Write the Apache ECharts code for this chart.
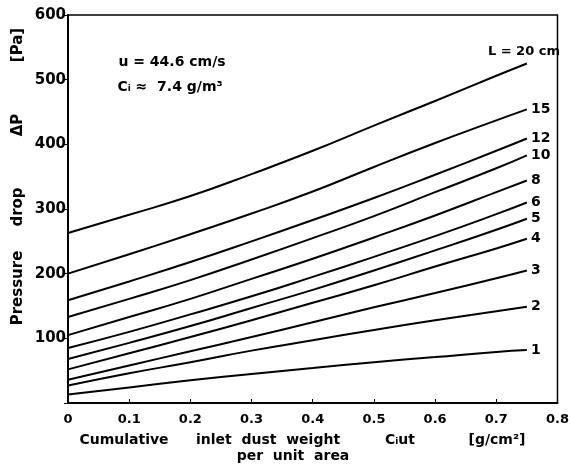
<!DOCTYPE html>
<html>
<head>
<meta charset="utf-8">
<script src="https://cdn.jsdelivr.net/npm/echarts@6/dist/echarts.min.js"></script>
<style>html,body{margin:0;padding:0;background:#fff}#c{width:572px;height:473px}</style>
</head>
<body>
<div id="c"></div>
<script>
// Cumulative inlet dust weight per unit area C_i u t [g/cm2]
var xValues = [0, 0.1, 0.2, 0.3, 0.4, 0.5, 0.6, 0.7, 0.75];
// Pressure drop [Pa] for each filter length L
var seriesNames = ['L = 20 cm', '15', '12', '10', '8', '6', '5', '4', '3', '2', '1'];
var L20 = [263, 291, 320, 354, 390, 429, 467, 506, 525];
var L15 = [200, 230, 261, 293, 327, 365, 402, 437, 454];
var L12 = [159, 188, 218, 250, 283, 317, 353, 390, 409];
var L10 = [133, 161, 190, 222, 255, 289, 326, 363, 383];
var L8  = [105, 133, 161, 192, 223, 256, 290, 326, 344];
var L6  = [85, 110, 137, 165, 195, 226, 258, 292, 310];
var L5  = [68, 93, 119, 147, 175, 205, 236, 268, 285];
var L4  = [52, 77, 102, 128, 155, 182, 211, 239, 254];
var L3  = [36, 58, 80, 102, 125, 148, 170, 193, 205];
var L2  = [27, 46, 63, 81, 97, 113, 128, 142, 149];
var L1  = [13, 24, 35, 45, 54, 63, 71, 79, 82];
var yTicks = [0, 100, 200, 300, 400, 500, 600];
var xTicks = [0, 0.1, 0.2, 0.3, 0.4, 0.5, 0.6, 0.7, 0.8];

var allData = [L20, L15, L12, L10, L8, L6, L5, L4, L3, L2, L1];
var FONT = '"DejaVu Sans", "Liberation Sans", sans-serif';

var chart = echarts.init(document.getElementById('c'));
var series = allData.map(function (vals, i) {
  return {
    name: seriesNames[i],
    type: 'line',
    smooth: 0.5,
    symbol: 'none',
    data: xValues.map(function (x, k) { return [x, vals[k]]; }),
    lineStyle: { color: '#000', width: 2 },
    endLabel: {
      show: true,
      formatter: '{a}',
      color: '#000',
      fontFamily: FONT,
      fontWeight: 'bold',
      fontSize: i === 0 ? 13 : 14,
      distance: 4,
      offset: i === 0 ? [-43, -12] : [0, 0]
    },
    emphasis: { disabled: true },
    silent: true
  };
});

function txt(x, y, s, size, rot) {
  return { type: 'text', x: x, y: y, rotation: rot || 0, silent: true,
    style: { text: s, font: 'bold ' + size + 'px ' + FONT, fill: '#000', textAlign: 'center', textVerticalAlign: 'middle' } };
}

chart.setOption({
  animation: false,
  backgroundColor: '#fff',
  grid: { left: 68, top: 15, right: 7, bottom: 70, show: true, borderColor: '#000', borderWidth: 1.5 },
  xAxis: {
    type: 'value', min: xTicks[0], max: xTicks[xTicks.length - 1], interval: 0.1,
    axisLine: { lineStyle: { color: '#000', width: 2 } },
    axisTick: { show: true, inside: true, length: 4, lineStyle: { color: '#000' } },
    splitLine: { show: false },
    axisLabel: {
      color: '#000', fontFamily: FONT, fontWeight: 'bold', fontSize: 13, margin: 10,
      formatter: function (v) { return v === 0 ? '0' : v.toFixed(1); }
    }
  },
  yAxis: {
    type: 'value', min: yTicks[0], max: yTicks[yTicks.length - 1], interval: 100,
    axisLine: { show: true, lineStyle: { color: '#000', width: 2 } },
    axisTick: { show: true, inside: false, length: 4, lineStyle: { color: '#000' } },
    splitLine: { show: false },
    axisLabel: {
      color: '#000', fontFamily: FONT, fontWeight: 'bold', fontSize: 15, margin: 2,
      formatter: function (v) { return v === 0 ? '' : String(v); }
    }
  },
  graphic: [
    txt(172, 62, 'u = 44.6 cm/s', 14),
    txt(170, 87, 'Cᵢ ≈  7.4 g/m³', 14),
    txt(18, 288, 'Pressure', 15, Math.PI / 2),
    txt(18, 207, 'drop', 15, Math.PI / 2),
    txt(18, 125, 'ΔP', 15, Math.PI / 2),
    txt(18, 45, '[Pa]', 15, Math.PI / 2),
    txt(124, 440, 'Cumulative', 14),
    txt(268, 440, 'inlet  dust  weight', 14),
    txt(400, 440, 'Cᵢut', 14),
    txt(497, 440, '[g/cm²]', 14),
    txt(293, 456, 'per  unit  area', 14)
  ],
  series: series
});
</script>
</body>
</html>
